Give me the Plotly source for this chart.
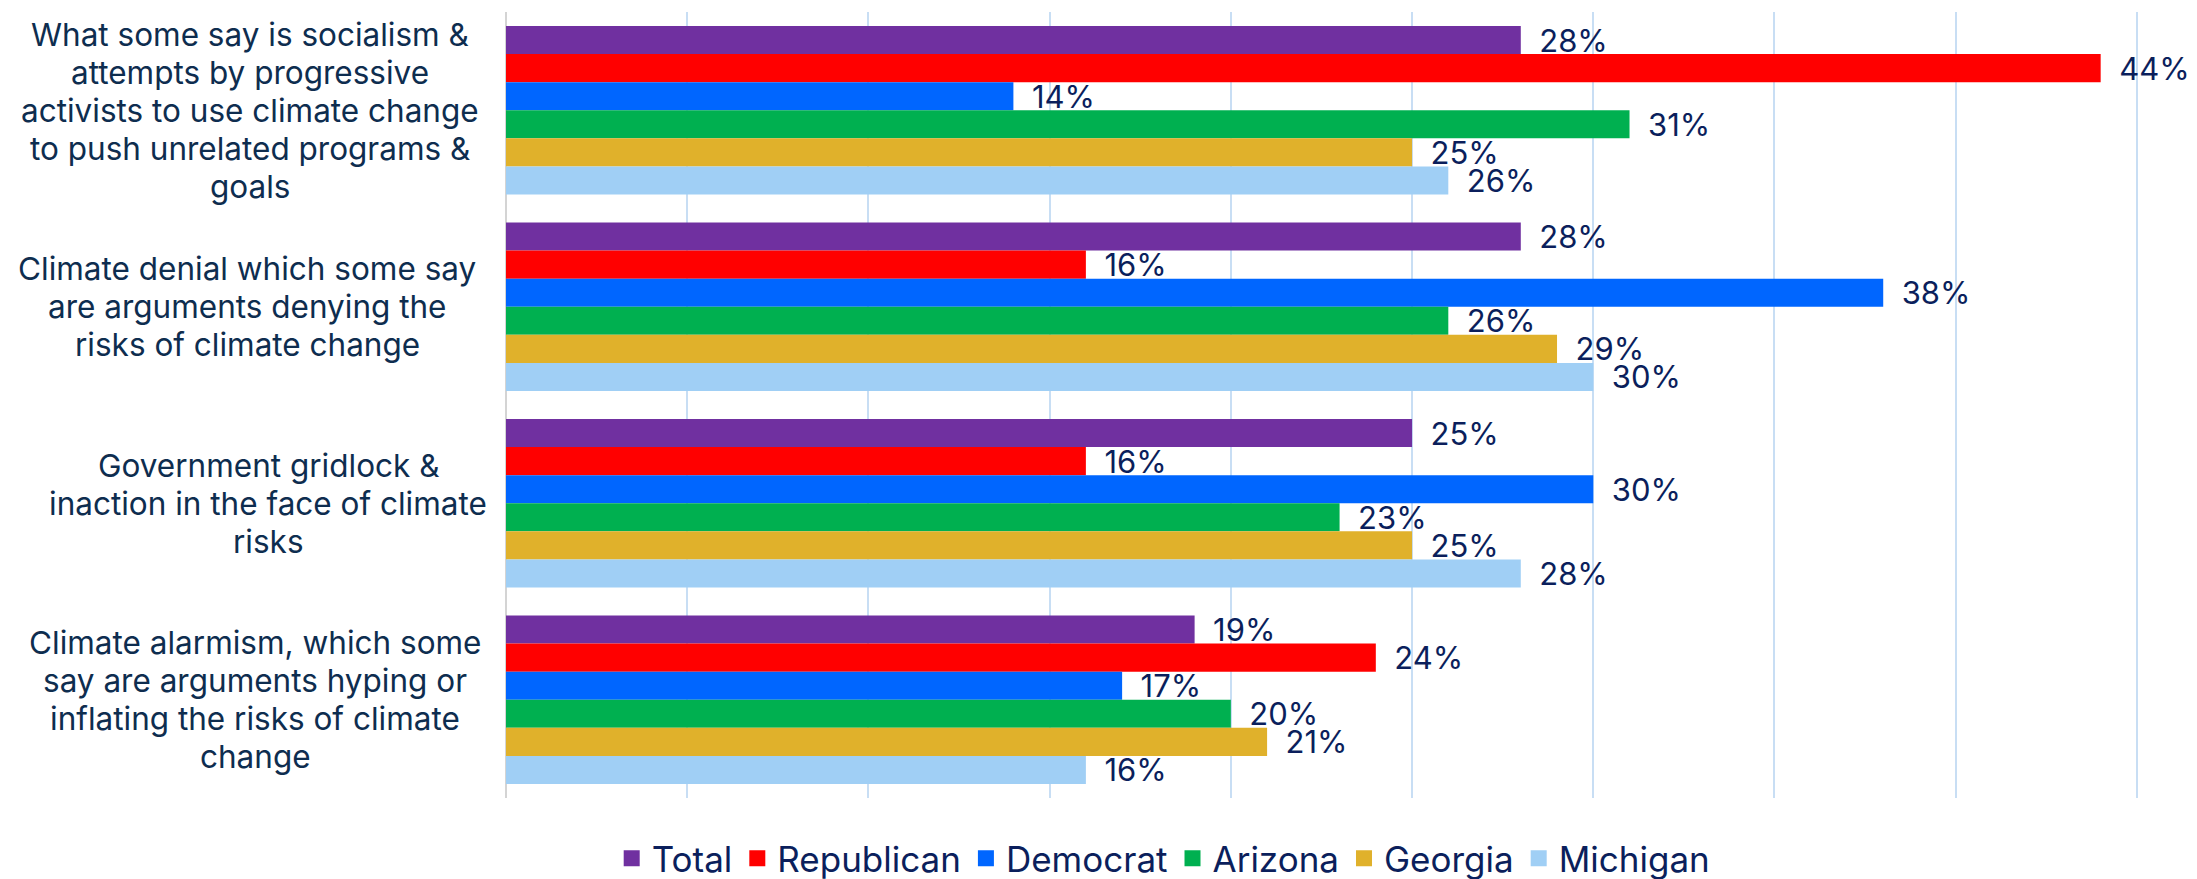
import plotly.graph_objects as go

categories = [
    "What some say is socialism &<br>attempts by progressive<br>activists to use climate change<br>to push unrelated programs &<br>goals",
    "Climate denial which some say<br>are arguments denying the<br>risks of climate change",
    "Government gridlock &<br>inaction in the face of climate<br>risks",
    "Climate alarmism, which some<br>say are arguments hyping or<br>inflating the risks of climate<br>change",
]
cat_keys = ["socialism", "denial", "gridlock", "alarmism"]

series_names = ["Total", "Republican", "Democrat", "Arizona", "Georgia", "Michigan"]
total = [28, 28, 25, 19]
republican = [44, 16, 16, 24]
democrat = [14, 38, 30, 17]
arizona = [31, 26, 23, 20]
georgia = [25, 29, 25, 21]
michigan = [26, 30, 28, 16]
series_values = [total, republican, democrat, arizona, georgia, michigan]
colors = ["#7030A0", "#FF0000", "#0066FF", "#00B050", "#E0B12B", "#A0CFF5"]

FONT = "Inter"
CAT_COLOR = "#0E2D4F"
LBL_COLOR = "#0B1F5C"

# layout helpers for the category label blocks (pixel offsets of block centres
# left of the axis, and line pitch)
label_centre_shift = [-256, -259, -238, -251]
LINE_PITCH = 38

fig = go.Figure()
for name, vals, col in zip(series_names, series_values, colors):
    fig.add_trace(go.Bar(
        y=cat_keys, x=vals, orientation="h", name=name,
        marker=dict(color=col, line=dict(width=0)),
        text=[f"\u2002{v}%" for v in vals],
        textposition="outside", constraintext="none", cliponaxis=False,
        textfont=dict(family=FONT, size=31, color=LBL_COLOR),
        showlegend=False, hoverinfo="skip",
    ))
# legend entries
for name, col in zip(series_names, colors):
    fig.add_trace(go.Scatter(
        x=[None], y=[None], mode="markers", name=name,
        marker=dict(symbol="square", size=18, color=col),
        showlegend=True,
    ))

for key, label, shift in zip(cat_keys, categories, label_centre_shift):
    lines = label.split("<br>")
    n = len(lines)
    for i, line in enumerate(lines):
        fig.add_annotation(
            x=0, xref="paper", y=key, yref="y", text=line, showarrow=False,
            xanchor="center", yanchor="middle", align="center",
            xshift=shift, yshift=((n - 1) / 2 - i) * LINE_PITCH,
            font=dict(family=FONT, size=31.5, color=CAT_COLOR),
        )

fig.update_layout(
    width=2197, height=879,
    margin=dict(l=498, r=67, t=4, b=89, autoexpand=False),
    paper_bgcolor="white", plot_bgcolor="white",
    barmode="group", bargap=1/7, bargroupgap=0,
    font=dict(family=FONT, size=30, color=LBL_COLOR),
    legend=dict(
        orientation="h", x=0.403, xanchor="center",
        yref="container", y=0.066, yanchor="top",
        font=dict(family=FONT, size=35, color=LBL_COLOR),
        itemclick=False, itemdoubleclick=False, tracegroupgap=0, itemwidth=30,
    ),
    xaxis=dict(
        range=[0, 45.03], dtick=5, tick0=0, showticklabels=False,
        showgrid=True, gridcolor="#C8DEF4", gridwidth=1.5,
        zeroline=True, zerolinecolor="#D4D4D4", zerolinewidth=2,
        fixedrange=True,
    ),
    yaxis=dict(
        autorange="reversed", showticklabels=False, showgrid=False,
        zeroline=False, fixedrange=True,
    ),
)

fig.write_html("out.html")
